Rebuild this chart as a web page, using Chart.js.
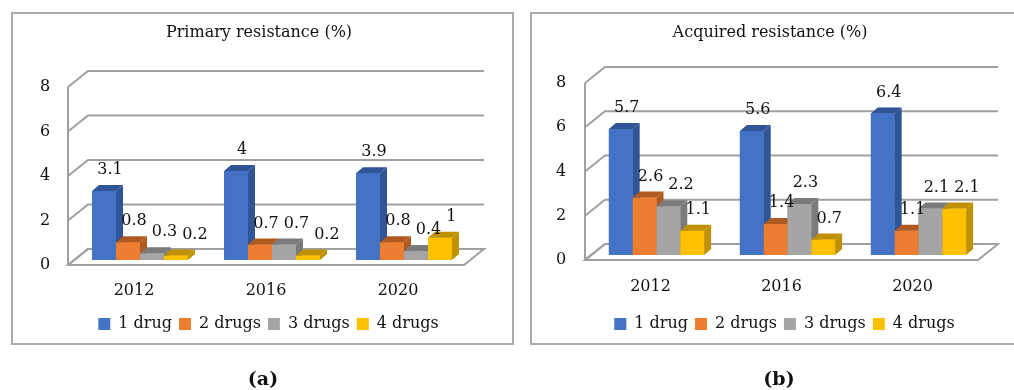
<!DOCTYPE html>
<html><head><meta charset="utf-8">
<script src="https://cdn.jsdelivr.net/npm/chart.js@4.4.1/dist/chart.umd.min.js"></script>
<style>
html,body{margin:0;padding:0;background:#fff;}
body{width:1014px;height:390px;position:relative;overflow:hidden;font-family:"DejaVu Serif",serif;color:#111;}
.box{position:absolute;border:2px solid #ababab;box-sizing:border-box;}
canvas{position:absolute;left:0;top:0;}
.ttl{position:absolute;transform:translate(-50%,-50%);font-size:16px;white-space:nowrap;line-height:1;}
.cap{position:absolute;transform:translate(-50%,-50%);font-size:19px;font-weight:bold;white-space:nowrap;line-height:1;}
</style></head>
<body>
<div class="box" style="left:11px;top:12px;width:503px;height:333px"></div>
<div class="box" style="left:530px;top:12px;width:500px;height:333px"></div>
<canvas id="ca" width="1014" height="390"></canvas>
<canvas id="cb" width="1014" height="390"></canvas>
<div class="ttl" style="left:259px;top:32px">Primary resistance (%)</div>
<div class="ttl" style="left:770px;top:32px">Acquired resistance (%)</div>
<div class="cap" style="left:263px;top:378px">(a)</div>
<div class="cap" style="left:779px;top:378px">(b)</div>
<script>
const categories = ['2012', '2016', '2020'];
const seriesNames = ['1 drug', '2 drugs', '3 drugs', '4 drugs'];
const yTicks = [0, 2, 4, 6, 8];

const primaryOneDrug = [3.1, 4, 3.9];
const primaryTwoDrugs = [0.8, 0.7, 0.8];
const primaryThreeDrugs = [0.3, 0.7, 0.4];
const primaryFourDrugs = [0.2, 0.2, 1];

const acquiredOneDrug = [5.7, 5.6, 6.4];
const acquiredTwoDrugs = [2.6, 1.4, 1.1];
const acquiredThreeDrugs = [2.2, 2.3, 2.1];
const acquiredFourDrugs = [1.1, 0.7, 2.1];

const frontColors = ['#4472C4', '#ED7D31', '#A5A5A5', '#FFC000'];
const sideColors = ['#2F5597', '#AE5A21', '#7B7B7B', '#BF9000'];

Chart.defaults.font.family = '"DejaVu Serif", serif';
Chart.defaults.color = '#111';

const FRONT = {dx: -6, dy: 5};
const BACK = {dx: 14, dy: -11};
const DEPTH = {dx: 7, dy: -6};
const LABEL = {dx: 6, dy: -21, gap: 5};

const threeD = {
  id: 'threeD',
  beforeDatasetsDraw(chart) {
    const {ctx, chartArea: {left, right}, scales: {y}} = chart;
    const y0 = y.getPixelForValue(0);
    const yTop = y.getPixelForValue(yTicks[yTicks.length - 1]);
    ctx.save();
    ctx.strokeStyle = '#a0a0a0';
    ctx.lineWidth = 2;
    ctx.beginPath();
    ctx.moveTo(left + FRONT.dx, y0 + FRONT.dy);
    ctx.lineTo(right + FRONT.dx, y0 + FRONT.dy);
    ctx.lineTo(right + BACK.dx, y0 + BACK.dy);
    ctx.lineTo(left + BACK.dx, y0 + BACK.dy);
    ctx.closePath();
    ctx.fillStyle = '#fff';
    ctx.fill();
    ctx.stroke();
    yTicks.forEach(v => {
      const yv = y.getPixelForValue(v);
      ctx.beginPath();
      ctx.moveTo(left + FRONT.dx, yv + FRONT.dy);
      ctx.lineTo(left + BACK.dx, yv + BACK.dy);
      ctx.lineTo(right + BACK.dx, yv + BACK.dy);
      ctx.stroke();
    });
    ctx.beginPath();
    ctx.moveTo(left + FRONT.dx, yTop + FRONT.dy);
    ctx.lineTo(left + FRONT.dx, y0 + FRONT.dy + 1);
    ctx.stroke();
    ctx.restore();
  },
  afterDatasetsDraw(chart) {
    const {ctx} = chart;
    const n = chart.data.labels.length;
    ctx.save();
    ctx.font = '16px "DejaVu Serif", serif';
    const groups = [];
    for (let i = 0; i < n; i++) {
      const group = [];
      chart.data.datasets.forEach((ds, d) => {
        const el = chart.getDatasetMeta(d).data[i];
        const {x, y, base, width} = el.getProps(['x', 'y', 'base', 'width'], true);
        const l = x - width / 2, r = x + width / 2;
        ctx.fillStyle = frontColors[d];
        ctx.fillRect(l, y, width, base - y);
        ctx.fillStyle = sideColors[d];
        ctx.beginPath();
        ctx.moveTo(r, y);
        ctx.lineTo(r + DEPTH.dx, y + DEPTH.dy);
        ctx.lineTo(r + DEPTH.dx, base + DEPTH.dy);
        ctx.lineTo(r, base);
        ctx.closePath();
        ctx.fill();
        ctx.beginPath();
        ctx.moveTo(l, y);
        ctx.lineTo(l + DEPTH.dx, y + DEPTH.dy);
        ctx.lineTo(r + DEPTH.dx, y + DEPTH.dy);
        ctx.lineTo(r, y);
        ctx.closePath();
        ctx.fill();
        const text = String(ds.data[i]);
        group.push({x: x + LABEL.dx, y: y + LABEL.dy, text, w: ctx.measureText(text).width});
      });
      groups.push(group);
    }
    // simple overlap avoidance between neighbouring labels
    groups.forEach(group => {
      for (let k = 1; k < group.length; k++) {
        const p = group[k - 1], c = group[k];
        if (Math.abs(p.y - c.y) < 16) {
          const minX = p.x + p.w / 2 + LABEL.gap + c.w / 2;
          if (c.x < minX) c.x = minX;
        }
      }
    });
    ctx.fillStyle = '#111';
    ctx.textAlign = 'center';
    ctx.textBaseline = 'middle';
    groups.flat().forEach(o => ctx.fillText(o.text, o.x, o.y));
    ctx.restore();
  }
};

function makeChart(id, series, pad, xHeight, xPad, yWidth, yPad) {
  return new Chart(document.getElementById(id), {
    type: 'bar',
    data: {
      labels: categories,
      datasets: series.map((s, i) => ({
        label: seriesNames[i],
        data: s,
        backgroundColor: frontColors[i],
        borderWidth: 0,
        barPercentage: 1,
        categoryPercentage: 0.727
      }))
    },
    options: {
      responsive: false,
      animation: false,
      devicePixelRatio: 1,
      layout: {padding: pad},
      plugins: {
        legend: {
          position: 'bottom',
          labels: {boxWidth: 12, boxHeight: 12, padding: 7, color: '#111', font: {size: 16}}
        },
        title: {display: false},
        tooltip: {enabled: false}
      },
      scales: {
        x: {
          grid: {display: false, drawTicks: false},
          border: {display: false},
          ticks: {padding: xPad, labelOffset: FRONT.dx, font: {size: 16}, color: '#111', maxRotation: 0, autoSkip: false},
          afterFit(s) { s.height = xHeight; }
        },
        y: {
          min: 0, max: 8,
          grid: {display: false, drawTicks: false},
          border: {display: false},
          ticks: {mirror: true, crossAlign: 'near', padding: yPad, labelOffset: FRONT.dy, font: {size: 16}, color: '#111'},
          afterBuildTicks(s) { s.ticks = yTicks.map(v => ({value: v})); },
          afterFit(s) { s.width = yWidth; }
        }
      }
    },
    plugins: [threeD]
  });
}

makeChart('ca', [primaryOneDrug, primaryTwoDrugs, primaryThreeDrugs, primaryFourDrugs],
  {left: 67, right: 544, top: 82, bottom: 48}, 49, 21, 7, -34);
makeChart('cb', [acquiredOneDrug, acquiredTwoDrugs, acquiredThreeDrugs, acquiredFourDrugs],
  {left: 585, right: 30, top: 78, bottom: 48}, 54, 22, 6, -35);
</script>
</body></html>
